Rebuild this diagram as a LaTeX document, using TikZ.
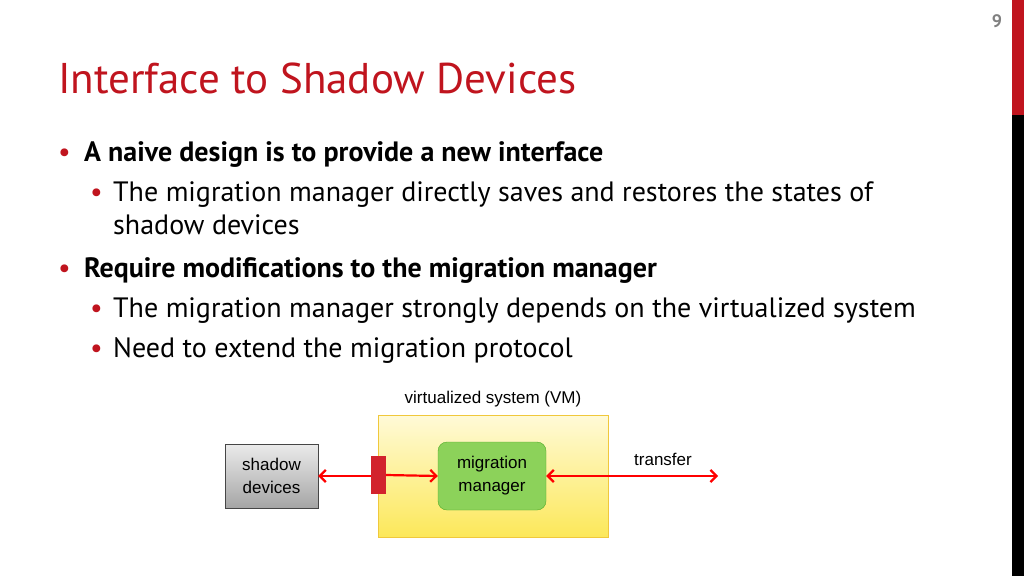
\documentclass[tikz,border=0pt]{standalone}
\usepackage{fontspec}
\setmainfont{PT Sans}
\newfontfamily\diag{Liberation Sans}
\begin{document}
\begin{tikzpicture}[x=1pt,y=-1pt,
  bul/.style={anchor=base west,inner sep=0pt,font=\fontsize{28}{32}\selectfont},
  dot/.style={anchor=base west,inner sep=0pt,text=titlered,font=\fontsize{28}{32}\selectfont},
  lab/.style={font=\diag\fontsize{17}{23}\selectfont,align=center},
  arr/.style={red,line width=2.2pt,>={Straight Barb[length=6pt,width=12pt]}}]
\usetikzlibrary{arrows.meta}
\definecolor{titlered}{RGB}{192,20,30}
\useasboundingbox (0,0) rectangle (1024,576);
\fill[white] (0,0) rectangle (1024,576);
\fill[titlered] (1012,0) rectangle (1024,115);
\fill[black] (1012,115) rectangle (1024,576);
\node[text=gray,font=\fontsize{18}{20}\selectfont\bfseries] (num) at (997,21) {9};
\node[anchor=base west,inner sep=0pt,text=titlered,font=\fontsize{43}{48}\selectfont] (title) at (58,93) {Interface to Shadow Devices};
\node[dot] (d1) at (58,161) {•};
\node[bul,font=\fontsize{28}{32}\selectfont\bfseries] (b1) at (84,161) {A naive design is to provide a new interface};
\node[dot] (d2) at (90,201) {•};
\node[bul] (b2) at (113,201) {The migration manager directly saves and restores the states of};
\node[bul] (b2b) at (113,234) {shadow devices};
\node[dot] (d3) at (58,277) {•};
\node[bul,font=\fontsize{28}{32}\selectfont\bfseries] (b3) at (84,277) {Require modifications to the migration manager};
\node[dot] (d4) at (90,317) {•};
\node[bul] (b4) at (113,317) {The migration manager strongly depends on the virtualized system};
\node[dot] (d5) at (90,357) {•};
\node[bul] (b5) at (113,357) {Need to extend the migration protocol};
% diagram
\node[lab] (vmlab) at (493,399) {virtualized system (VM)};
\path[draw={rgb,255:red,240;green,200;blue,60},top color={rgb,255:red,255;green,250;blue,215},bottom color={rgb,255:red,252;green,232;blue,90}] (378,415) rectangle (608,537);
\node[draw={rgb,255:red,70;green,70;blue,70},top color={rgb,255:red,235;green,235;blue,235},bottom color={rgb,255:red,165;green,165;blue,165},minimum width=93pt,minimum height=64pt,lab] (sd) at (271.5,476) {shadow\\devices};
\draw[arr,<-] (sd.east) -- (378.5,476) coordinate (pc);
\node[fill={rgb,255:red,210;green,35;blue,45},minimum width=15pt,minimum height=38pt,inner sep=0pt] (port) at (378.5,475) {};
\node[draw={rgb,255:red,80;green,170;blue,40},fill={rgb,255:red,140;green,210;blue,90},rounded corners=9pt,minimum width=108pt,minimum height=68pt,lab] (mm) at (492,476) {migration\\manager};
\coordinate (tr) at (718,476);
\node[lab] (trlab) at (663,459) {transfer};
\draw[arr,->] (port.east) -- (mm.west);
\draw[arr,<->] (mm.east) -- (tr);
\end{tikzpicture}
\end{document}
